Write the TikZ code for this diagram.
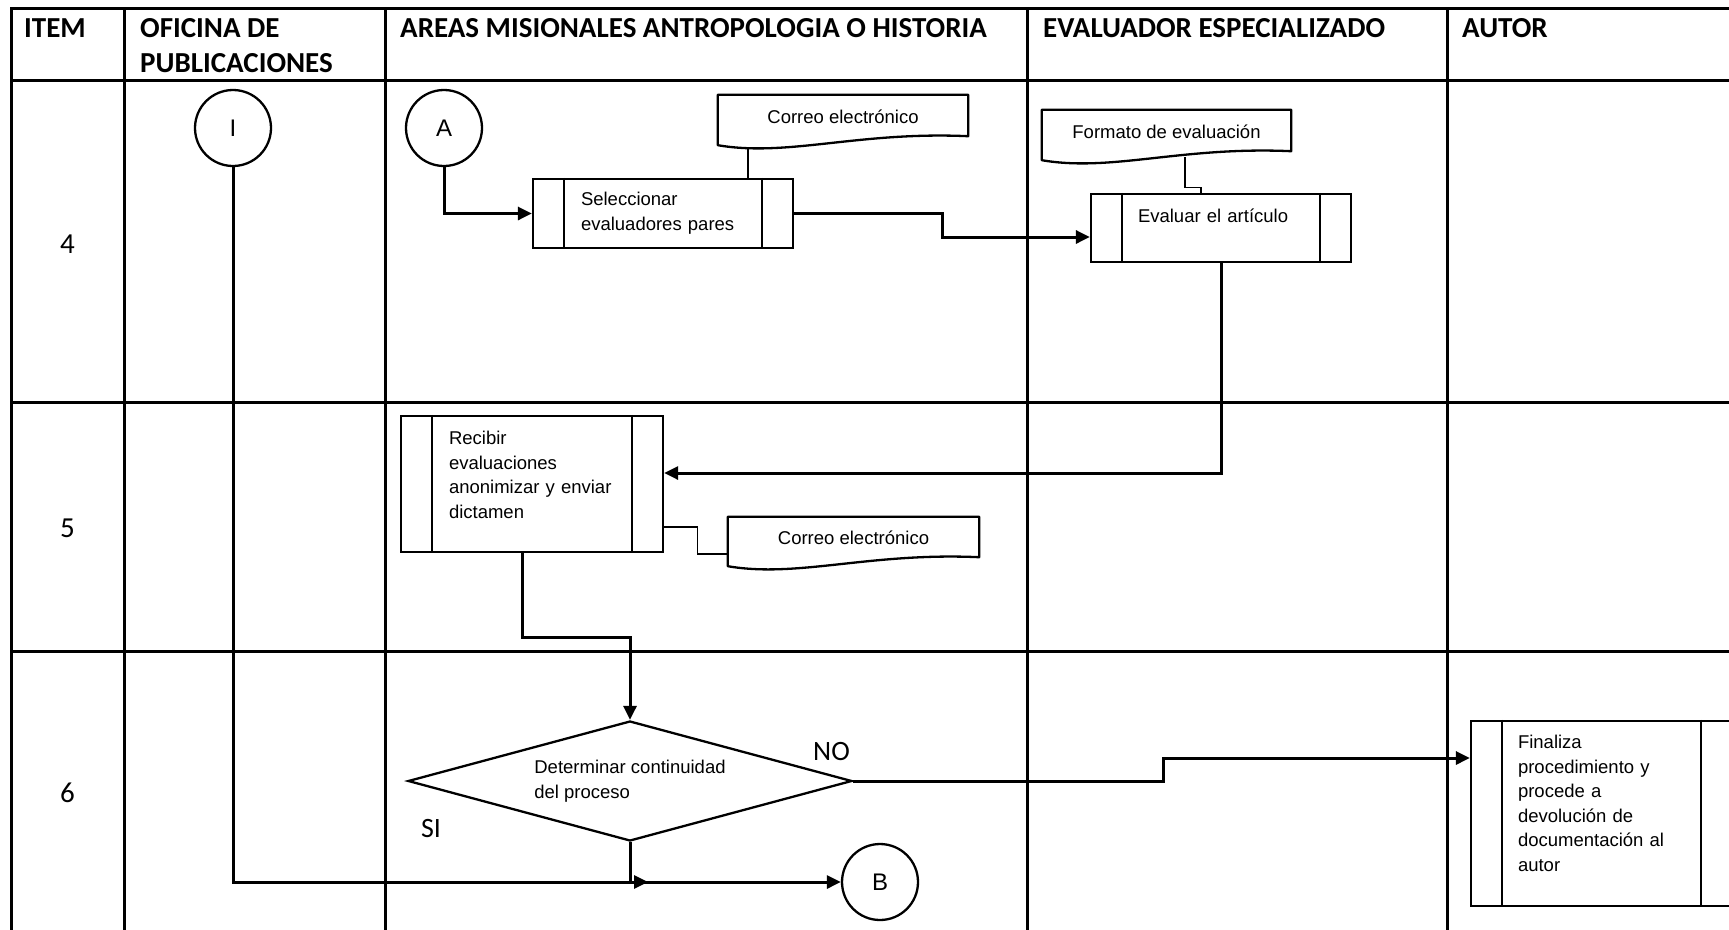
\documentclass[tikz,border=0pt]{standalone}
\usepackage{fontspec}
\setmainfont{Liberation Sans}
\newfontfamily\calibfont{Carlito}
\usetikzlibrary{arrows.meta,shapes.geometric,calc}

% outline of a document symbol: flat top, wavy bottom edge
\newcommand\docoutline[1]{%
  \draw[boxline,line join=round] (#1.south west) -- (#1.north west) -- (#1.north east)
    -- ([yshift=9pt]#1.south east)
    .. controls ([xshift=-110pt,yshift=14pt]#1.south east) and ([xshift=70pt,yshift=-12pt]#1.south west) ..
    (#1.south west) -- cycle;}

\begin{document}
\begin{tikzpicture}[x=1pt,y=-1pt,
  grid/.style={line width=3pt,line cap=rect},
  conn/.style={line width=3pt},
  arr/.style={conn,-{Triangle[length=14pt,width=13pt]}},
  thinline/.style={line width=1.3pt},
  boxline/.style={line width=2.3pt},
  body/.style={font=\fontsize{18.5}{24.6}\selectfont},
  headtext/.style={anchor=north west,inner sep=0pt,align=left,
    font=\calibfont\bfseries\fontsize{29}{35.5}\selectfont},
  rownum/.style={inner sep=0pt,font=\calibfont\fontsize{29}{34}\selectfont},
  answer/.style={inner sep=0pt,font=\calibfont\fontsize{28}{34}\selectfont},
  conncirc/.style={circle,draw,boxline,minimum size=76pt,inner sep=0pt,
    font=\fontsize{24}{28}\selectfont},
  procbox/.style={rectangle,draw,boxline,body,align=left,inner ysep=0pt},
  docbox/.style={rectangle,body,inner sep=0pt,text depth=7pt},
  decision/.style={diamond,draw,boxline,body,align=left,inner sep=0pt,
    aspect=3.7,minimum width=444pt,minimum height=120pt}
]
\useasboundingbox (0,0) rectangle (1729,929);
\clip (0,0) rectangle (1729,929);

% table grid
\foreach \y in {8,80.5,402,651} \draw[grid] (11,\y) -- (1740,\y);
\foreach \x in {11,124,385,1027,1447} \draw[grid] (\x,8) -- (\x,940);

% column headings
\node[headtext] (hItem)  at (24,18)   {ITEM};
\node[headtext] (hOfi)   at (140,18)  {OFICINA DE\\PUBLICACIONES};
\node[headtext] (hAreas) at (400,18)  {AREAS MISIONALES ANTROPOLOGIA O HISTORIA};
\node[headtext] (hEval)  at (1043,18) {EVALUADOR ESPECIALIZADO};
\node[headtext] (hAutor) at (1462,18) {AUTOR};

% item numbers
\node[rownum] (n4) at (67.5,244) {4};
\node[rownum] (n5) at (67.5,528) {5};
\node[rownum] (n6) at (67.5,793) {6};

% connectors (off-page references)
\node[conncirc] (cI) at (233,128) {I};
\node[conncirc] (cA) at (444,128) {A};
\node[conncirc] (cB) at (880,882) {B};

% process steps
\node[procbox,minimum height=69pt,text width=164pt,inner xsep=48pt] (sel) at (663,213.5)
  {Seleccionar\\evaluadores pares};
\node[procbox,minimum height=68pt,text width=166pt,inner xsep=47pt] (ev) at (1221,228)
  {Evaluar el artículo\\\mbox{}};
\node[procbox,minimum height=136pt,text width=166pt,inner xsep=48pt] (rec) at (532,484)
  {Recibir\\evaluaciones\\anonimizar y enviar\\dictamen\\[-6pt]\mbox{}};
\node[procbox,minimum height=185pt,text width=167pt,inner xsep=47pt] (fin) at (1601.5,813.5)
  {Finaliza\\procedimiento y\\procede a\\devolución de\\documentación al\\autor\\[-4pt]\mbox{}};
\foreach \n in {sel,ev,rec,fin}{
  \draw[boxline] ([xshift=32pt]\n.north west) -- ([xshift=32pt]\n.south west);
  \draw[boxline] ([xshift=-32pt]\n.north east) -- ([xshift=-32pt]\n.south east);
}

% documents
\node[docbox,minimum width=250pt,minimum height=50pt] (d1) at (843,120) {Correo electrónico};
\node[docbox,minimum width=249pt,minimum height=50pt] (d2) at (1166.5,135) {Formato de evaluación};
\node[docbox,minimum width=251pt,minimum height=49pt] (d3) at (853.5,541.5) {Correo electrónico};
\docoutline{d1}
\docoutline{d2}
\docoutline{d3}

% decision
\node[decision] (dec) at (630,781) {Determinar continuidad\\del proceso};
\node[answer] (lNo) at (831.5,751) {NO};
\node[answer] (lSi) at (431,828) {SI};

% flow
\draw[arr] (cA.south) |- (sel.west);
\draw[arr] (sel.east) -- ++(148,0) |- ([yshift=-9pt]ev.west);
\draw[arr] (ev.south) |- ([yshift=11pt]rec.east);
\draw[arr] ([xshift=-10pt]rec.south) -- ++(0,84) -| (dec.north);
\draw[arr] (dec.east) -- ++(310,0) |- ([yshift=55.5pt]fin.west);
\coordinate (j) at (dec.south |- cB.west);
\draw[conn] (dec.south) -- (j);
\draw[arr] (cI.south) |- ([xshift=18pt]j);
\draw[arr] (j) -- (cB.west);

% document links
\coordinate (d1foot) at ([xshift=-95pt,yshift=-3pt]d1.south);
\draw[thinline] (d1foot) -- (d1foot |- sel.north);
\draw[thinline] ([xshift=18.5pt,yshift=3pt]d2.south) -- ++(0,30) -| ([xshift=-20pt]ev.north);
\draw[thinline] ([yshift=-43pt]rec.east) -- ++(33,0) |- ([yshift=-12.5pt]d3.west);
\end{tikzpicture}
\end{document}
